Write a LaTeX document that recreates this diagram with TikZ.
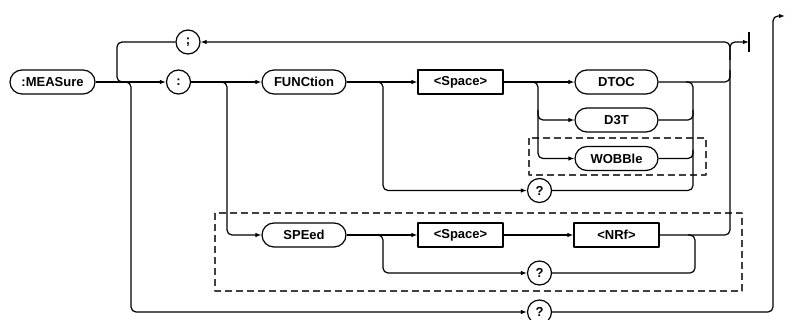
\documentclass[tikz,border=0pt]{standalone}
\usepackage{fontspec}
\setmainfont{Liberation Sans}
\usetikzlibrary{arrows.meta}
\begin{document}
\begin{tikzpicture}[x=1pt,y=-1pt,
  line width=1.2pt, line join=round,
  every node/.style={font=\fontsize{13}{15}\selectfont\bfseries, inner sep=0pt},
  kw/.style={draw, rectangle, rounded corners=12pt, minimum width=84pt, minimum height=24pt},
  bx/.style={draw, rectangle, minimum width=85pt, minimum height=24pt},
  cir/.style={draw, circle, minimum size=24pt},
  arr/.style={-{Latex[length=6pt,width=4.5pt]}},
  rc/.style={rounded corners=5pt},
  dbox/.style={draw=black!75, line width=1.2pt, dash pattern=on 7pt off 4pt}
]
\useasboundingbox (0,0) rectangle (786,320);

% dashed groups
\draw[dbox] (529,138) rectangle (706,175);
\draw[dbox] (215,213) rectangle (742,291);

% nodes
\node[kw, minimum width=85pt] (meas) at (52.5,82) {:MEASure};
\node[cir] (semi) at (188,42) {;};
\node[cir] (colon) at (178.5,82) {:};
\node[kw] (func) at (304,82) {FUNCtion};
\node[bx] (sp1) at (460.5,82) {<Space>};
\node[kw, minimum width=83pt] (dtoc) at (616.5,82) {DTOC};
\node[kw, minimum width=83pt] (d3t) at (616.5,120) {D3T};
\node[kw, minimum width=83pt] (wob) at (616.5,158.5) {WOBBle};
\node[cir] (q1) at (539.5,190.5) {?};
\node[kw] (speed) at (304,235) {SPEed};
\node[bx] (sp2) at (460.5,235) {<Space>};
\node[bx] (nrf) at (616.5,235) {<NRf>};
\node[cir] (q2) at (539.5,273) {?};
\node[cir] (q3) at (539.5,312) {?};
\coordinate (endbar) at (749,42);
\coordinate (exit) at (785,16);

% end bar
\draw (749,32) -- (749,52);

% main line
\draw[arr] (meas.east) -- (colon.west);
\draw[rc] (semi.west) -- (117,42) -- (117,82) -- (126,82);
\draw[rc,arr] (124,82) -- (131,82) -- (131,312) -- (q3.west);

\draw[arr] (colon.east) -- (func.west);
\draw[rc,arr] (220,82) -- (227,82) -- (227,235) -- (speed.west);

% FUNCtion row
\draw[arr] (func.east) -- (sp1.west);
\draw[rc,arr] (376,82) -- (383,82) -- (383,190.5) -- (q1.west);
\draw[arr] (sp1.east) -- (dtoc.west);
\draw[rc,arr] (531,82) -- (538,82) -- (538,158.5) -- (wob.west);
\draw[rc,arr] (538,110) -- (538,120) -- (d3t.west);
\draw[rc] (d3t.east) -- (693,120) -- (693,82) -- (686,82);
\draw[rc] (wob.east) -- (693,158.5) -- (693,110);
\draw[rc] (q1.east) -- (693,190.5) -- (693,150);
\draw[rc] (dtoc.east) -- (730,82) -- (730,70);

% SPEed row
\draw[arr] (speed.east) -- (sp2.west);
\draw[rc,arr] (376,235) -- (383,235) -- (383,273) -- (q2.west);
\draw[arr] (sp2.east) -- (nrf.west);
\draw[rc] (q2.east) -- (695,273) -- (695,235) -- (688,235);
\draw[rc,arr] (nrf.east) -- (730,235) -- (730,42) -- (semi.east);
\draw[rc,arr] (730,60) -- (730,42) -- (endbar);

% bottom
\draw[rc,arr] (q3.east) -- (773,312) -- (773,16) -- (exit);
\end{tikzpicture}
\end{document}
